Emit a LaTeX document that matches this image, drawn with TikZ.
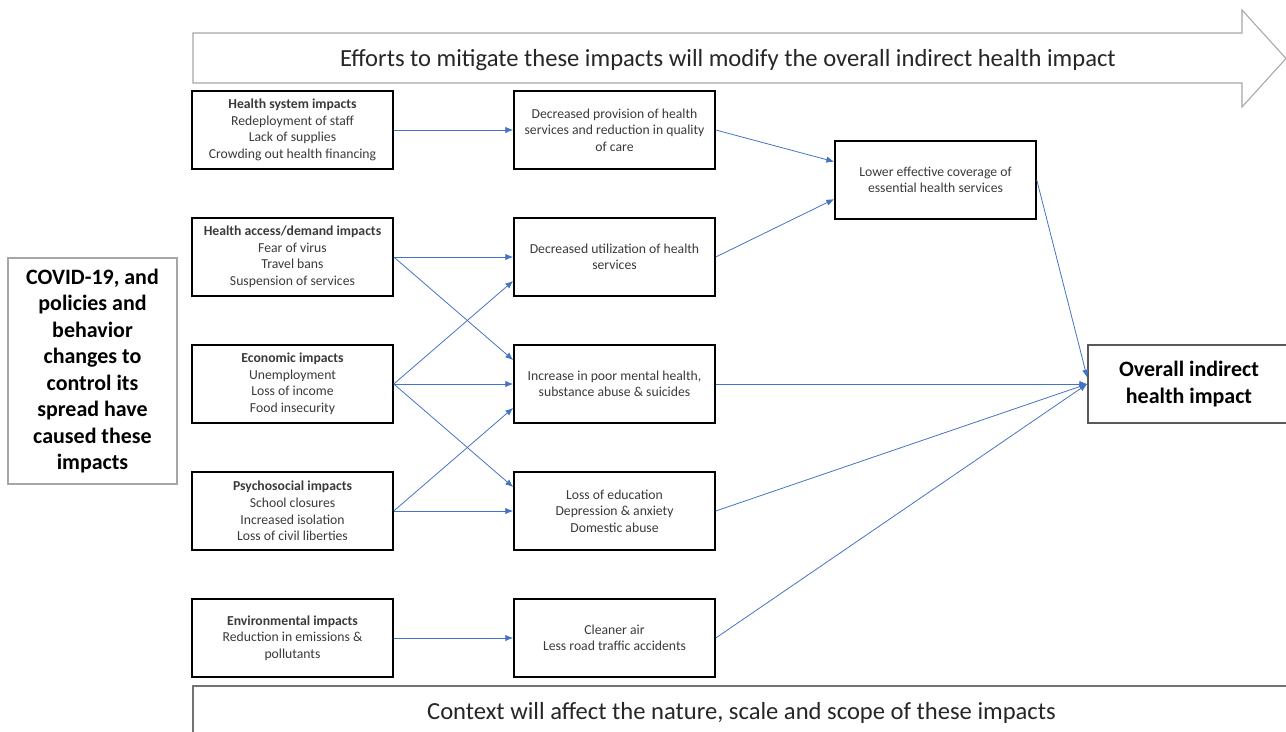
\documentclass[tikz,border=0pt]{standalone}
\usepackage{fontspec}
\setmainfont{Carlito}
\usetikzlibrary{arrows.meta,calc}

\definecolor{linkblue}{HTML}{4472C4}
\definecolor{framegray}{HTML}{A6A6A6}
\definecolor{txtgray}{HTML}{3A3A3A}

\tikzset{
  impactbox/.style={draw=black, line width=0.9pt, minimum width=4.02cm, minimum height=1.56cm,
    align=center, inner sep=1pt, text=txtgray, font=\fontsize{7.8}{9.4}\selectfont},
  bigbox/.style={align=center, inner sep=2pt, font=\fontsize{12.5}{15.1}\selectfont\bfseries},
  banner/.style={text=black!85, font=\fontsize{14}{16}\selectfont},
  link/.style={linkblue, line width=0.45pt, -{Latex[length=4.5pt,width=3.6pt]}},
}

\begin{document}
\begin{tikzpicture}[x=0.02cm,y=-0.02cm]
\clip (0,0) rectangle (1286,732);
\pgfmathsetmacro{\colA}{292.5}
\pgfmathsetmacro{\colB}{614.5}

% mitigation arrow on top
\draw[framegray, line width=0.6pt, fill=white] (193,33) -- (1242,33) -- (1242,10) -- (1286,58.5)
  -- (1242,107) -- (1242,83) -- (193,83) -- cycle;
\node[banner] (eff) at (728,60) {Efforts to mitigate these impacts will modify the overall indirect health impact};

% context box at the bottom
\node[draw=black!55, line width=0.9pt, minimum width=21.94cm, minimum height=1.08cm, banner] (ctx) at (741.5,713)
  {Context will affect the nature, scale and scope of these impacts};

% cause
\node[draw=framegray, line width=0.7pt, minimum width=3.38cm, minimum height=4.52cm, bigbox] (cov) at (92.5,371)
  {COVID-19, and\\policies and\\behavior\\changes to\\control its\\spread have\\caused these\\impacts};

% impacts
\node[impactbox] (hs) at (\colA,130) {\textbf{Health system impacts}\\Redeployment of staff\\Lack of supplies\\Crowding out health financing};
\node[impactbox] (ha) at (\colA,257) {\textbf{Health access/demand impacts}\\Fear of virus\\Travel bans\\Suspension of services};
\node[impactbox] (ec) at (\colA,384) {\textbf{Economic impacts}\\Unemployment\\Loss of income\\Food insecurity};
\node[impactbox] (ps) at (\colA,511) {\textbf{Psychosocial impacts}\\School closures\\Increased isolation\\Loss of civil liberties};
\node[impactbox] (en) at (\colA,638) {\textbf{Environmental impacts}\\Reduction in emissions \&\\pollutants};

% effects
\node[impactbox] (dp) at (\colB,130) {Decreased provision of health\\services and reduction in quality\\of care};
\node[impactbox] (du) at (\colB,257) {Decreased utilization of health\\services};
\node[impactbox] (mh) at (\colB,384) {Increase in poor mental health,\\substance abuse \& suicides};
\node[impactbox] (le) at (\colB,511) {Loss of education\\Depression \& anxiety\\Domestic abuse};
\node[impactbox] (ca) at (\colB,638) {Cleaner air\\Less road traffic accidents};

\node[impactbox] (lo) at (935.5,180) {Lower effective coverage of\\essential health services};
\node[impactbox, draw=black!65, minimum width=4.04cm, bigbox, text=black] (ov) at (1189,384) {Overall indirect\\health impact};

% links
\draw[link] (hs.east) -- (dp.west);
\draw[link] (ha.east) -- (du.west);
\draw[link] (ha.east) -- ($(mh.north west)!0.2!(mh.south west)$);
\draw[link] (ec.east) -- ($(du.north west)!0.8!(du.south west)$);
\draw[link] (ec.east) -- (mh.west);
\draw[link] (ec.east) -- ($(le.north west)!0.2!(le.south west)$);
\draw[link] (ps.east) -- ($(mh.north west)!0.8!(mh.south west)$);
\draw[link] (ps.east) -- (le.west);
\draw[link] (en.east) -- (ca.west);
\draw[link] (dp.east) -- ($(lo.north west)!0.27!(lo.south west)$);
\draw[link] (du.east) -- ($(lo.north west)!0.74!(lo.south west)$);
\draw[link] (lo.east) -- ($(ov.north west)!0.42!(ov.south west)$);
\draw[link] (mh.east) -- (ov.west);
\draw[link] (le.east) -- (ov.west);
\draw[link] (ca.east) -- (ov.west);
\end{tikzpicture}
\end{document}
